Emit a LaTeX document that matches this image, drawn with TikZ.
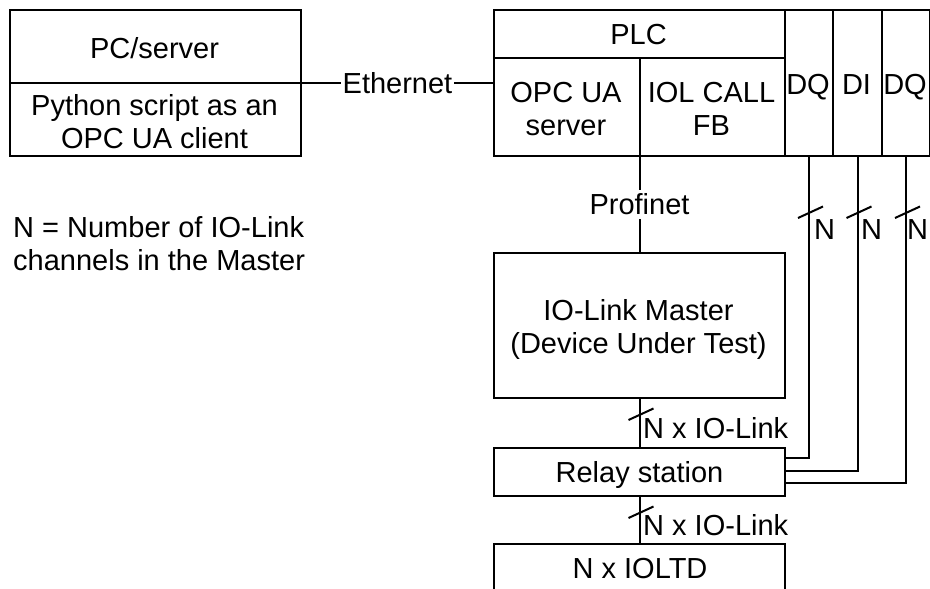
\documentclass[tikz,border=0pt]{standalone}
\usepackage{fontspec}
\setmainfont{Liberation Sans}
\usetikzlibrary{calc}
\begin{document}
\begin{tikzpicture}[x=1pt,y=-1pt,
  box/.style={draw,line width=2pt,inner sep=0pt,anchor=north west},
  wire/.style={line width=2pt},
  lbl/.style={inner sep=0pt,font=\fontsize{29}{33}\selectfont,align=center},
  gap/.style={lbl,fill=white,inner xsep=1.5pt,inner ysep=4pt},
  buswidth/.style={line width=2pt}]
\useasboundingbox (0,0) rectangle (930,589);
\clip (0,0) rectangle (930,589);

% PC / server
\node[box,minimum width=291pt,minimum height=146pt] (pc) at (9,9) {};
\draw[wire] (pc.west) -- (pc.east);
\node[lbl,anchor=base] (pctitle) at (154.5,58) {PC/server};
\node[lbl,anchor=base] (pcbody) at (154.5,148) {Python script as an\\OPC UA client};

% PLC with its I/O modules
\node[box,minimum width=291pt,minimum height=146pt] (plc) at (493,9) {};
\draw[wire] (plc.west |- 0,58) -- (plc.east |- 0,58);
\draw[wire] (plc.south) -- (plc.south |- 0,58);
\node[lbl,anchor=base] (plctitle) at (638.5,45) {PLC};
\node[lbl,anchor=base] (opcua) at (566,135) {OPC UA\\server};
\node[lbl,anchor=base] (iolcall) at (711.5,135) {IOL CALL\\FB};
\node[box,minimum width=48pt,minimum height=146pt] (dqa) at (784,9) {};
\node[box,minimum width=49pt,minimum height=146pt] (di) at (832,9) {};
\node[box,minimum width=48pt,minimum height=146pt] (dqb) at (881,9) {};
\node[lbl,anchor=base] (dqatxt) at (808,94) {DQ};
\node[lbl,anchor=base] (ditxt) at (856.5,94) {DI};
\node[lbl,anchor=base] (dqbtxt) at (905,94) {DQ};

% IO-Link master, relay station and test devices
\node[box,minimum width=291pt,minimum height=145pt] (master) at (493,252) {};
\node[lbl,anchor=base] (mastertxt) at (638.5,353) {IO-Link Master\\(Device Under Test)};
\node[box,minimum width=291pt,minimum height=48pt] (relay) at (493,446.5) {};
\node[lbl,anchor=base] (relaytxt) at (639.5,482) {Relay station};
\node[box,minimum width=291pt,minimum height=80pt] (ioltd) at (493,542.5) {};
\node[lbl,anchor=base] (ioltdtxt) at (640,578) {N x IOLTD};

% legend
\node[lbl,anchor=base west,align=left] (legend) at (13,270)
  {N = Number of IO-Link\\channels in the Master};

% connections
\draw[wire] (pc.east) -- node[gap] (eth) {Ethernet} (plc.west);
\draw[wire] (plc.south) -- node[gap] (pn) {Profinet} (master.north);
\draw[wire] (master.south) -- (relay.north);
\draw[wire] (relay.south) -- (ioltd.north);
\draw[wire] (dqa.south) |- ($(relay.east)+(0,-13.5)$);
\draw[wire] (di.south) |- ($(relay.east)+(0,-0.5)$);
\draw[wire] (dqb.south) |- ($(relay.east)+(0,11.5)$);

% bus-width marks
\coordinate (m1) at ($(master.south)+(0,16)$);
\coordinate (m2) at ($(relay.south)+(0,16.5)$);
\coordinate (s1) at ($(dqa.south)+(0,56)$);
\coordinate (s2) at ($(di.south)+(0,56)$);
\coordinate (s3) at ($(dqb.south)+(0,56)$);
\foreach \c in {m1,m2,s1,s2,s3}
  \draw[buswidth] (\c) ++(-11,5) -- ++(25,-11.5);

\node[lbl,anchor=base west] (n1) at (643,438) {N x IO-Link};
\node[lbl,anchor=base west] (n2) at (643,535) {N x IO-Link};
\node[lbl,anchor=base west] (na) at ($(dqa.south)+(5,82)$) {N};
\node[lbl,anchor=base west] (nb) at ($(di.south)+(3.5,82)$) {N};
\node[lbl,anchor=base west] (nc) at ($(dqb.south)+(1,82)$) {N};
\end{tikzpicture}
\end{document}
